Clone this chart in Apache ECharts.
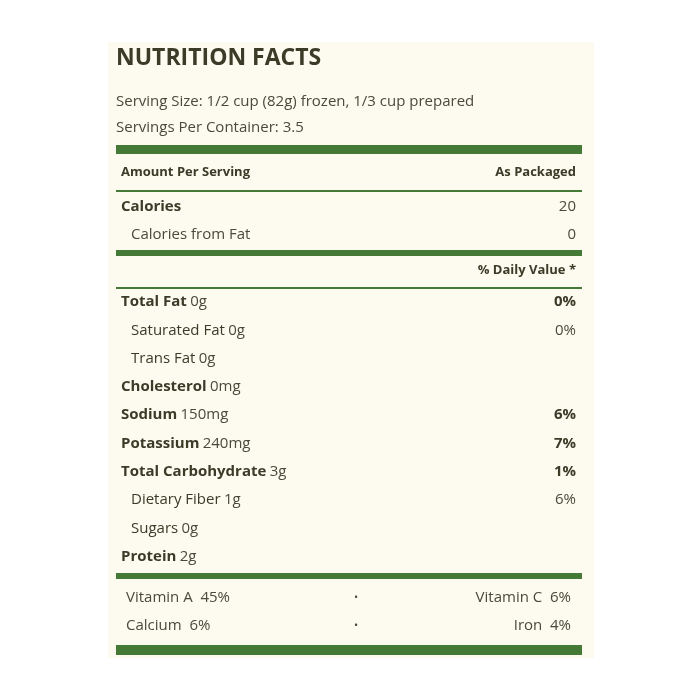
<!DOCTYPE html>
<html><head><meta charset="utf-8">
<script src="https://cdn.jsdelivr.net/npm/echarts@6/dist/echarts.min.js"></script>
<style>html,body{margin:0;background:#fff}#c{width:700px;height:700px}</style>
</head><body><div id="c"></div>
<script>
var title = 'NUTRITION FACTS';
var servingLines = ['Serving Size: 1/2 cup (82g) frozen, 1/3 cup prepared', 'Servings Per Container: 3.5'];
var calNames = ['Calories', 'Calories from Fat'];
var calValues = ['20', '0'];
var calBold = [true, false];
var nutNames = ['Total Fat', 'Saturated Fat', 'Trans Fat', 'Cholesterol', 'Sodium', 'Potassium', 'Total Carbohydrate', 'Dietary Fiber', 'Sugars', 'Protein'];
var nutAmounts = ['0g', '0g', '0g', '0mg', '150mg', '240mg', '3g', '1g', '0g', '2g'];
var nutDV = ['0%', '0%', '', '', '6%', '7%', '1%', '6%', '', ''];
var nutMain = [true, false, false, true, true, true, true, false, false, true];
var vitLeft = [['Vitamin A', '45%'], ['Calcium', '6%']];
var vitRight = [['Vitamin C', '6%'], ['Iron', '4%']];

var dark = '#3b3b28', green = '#447a36', font = '"Open Sans", Lato, sans-serif';
var L = 116, R = 582, TL = 121, TR = 576;
var g = [];
function rect(y, h) { g.push({type: 'rect', shape: {x: L, y: y, width: R - L, height: h}, style: {fill: green}}); }
function text(x, y, s, opt) {
  opt = opt || {};
  g.push({type: 'text', x: x, y: y, style: {text: s, fill: opt.color || dark, font: (opt.bold ? 'bold ' : '') + (opt.size || 15) + 'px ' + font,
    align: opt.align || 'left', verticalAlign: 'middle'}});
}
function rich(x, y, name, amt, bold) {
  g.push({type: 'text', x: x, y: y, style: {text: '{a|' + name + '} {b|' + amt + '}', verticalAlign: 'middle',
    rich: {a: {font: (bold ? 'bold ' : '') + '15px ' + font, fill: dark},
           b: {font: '15px ' + font, fill: '#4a4a3a'}}}});
}
g.push({type: 'rect', shape: {x: 108, y: 42, width: 486, height: 616}, style: {fill: '#fdfaef'}});
text(L, 58, title, {bold: true, size: 23});
servingLines.forEach(function (s, i) { text(L, 102 + i * 26, s, {color: '#4a4a3a'}); });
rect(145, 9);
text(TL, 172, 'Amount Per Serving', {bold: true, size: 13});
text(TR, 172, 'As Packaged', {bold: true, size: 13, align: 'right'});
rect(190, 2);
calNames.forEach(function (n, i) {
  var y = 207 + i * 28;
  text(calBold[i] ? TL : 131, y, n, {bold: calBold[i], color: calBold[i] ? dark : '#4a4a3a'});
  text(TR, y, calValues[i], {align: 'right', color: '#4a4a3a'});
});
rect(250, 6);
text(TR, 270, '% Daily Value *', {bold: true, size: 13, align: 'right'});
rect(287, 2);
nutNames.forEach(function (n, i) {
  var y = 302 + i * 28.3;
  rich(nutMain[i] ? TL : 131, y, n, nutAmounts[i], nutMain[i]);
  if (nutDV[i]) text(TR, y, nutDV[i], {bold: nutMain[i], align: 'right', color: nutMain[i] ? dark : '#4a4a3a'});
});
rect(573, 6);
vitLeft.forEach(function (v, i) {
  var y = 598 + i * 28;
  text(126, y, v[0] + '  ' + v[1], {color: '#4a4a3a'});
  text(356, y, '•', {size: 11, align: 'center', color: '#4a4a3a'});
  text(571, y, vitRight[i][0] + '  ' + vitRight[i][1], {align: 'right', color: '#4a4a3a'});
});
rect(645, 10);

var chart = echarts.init(document.getElementById('c'));
chart.setOption({animation: false, graphic: g});
</script></body></html>
